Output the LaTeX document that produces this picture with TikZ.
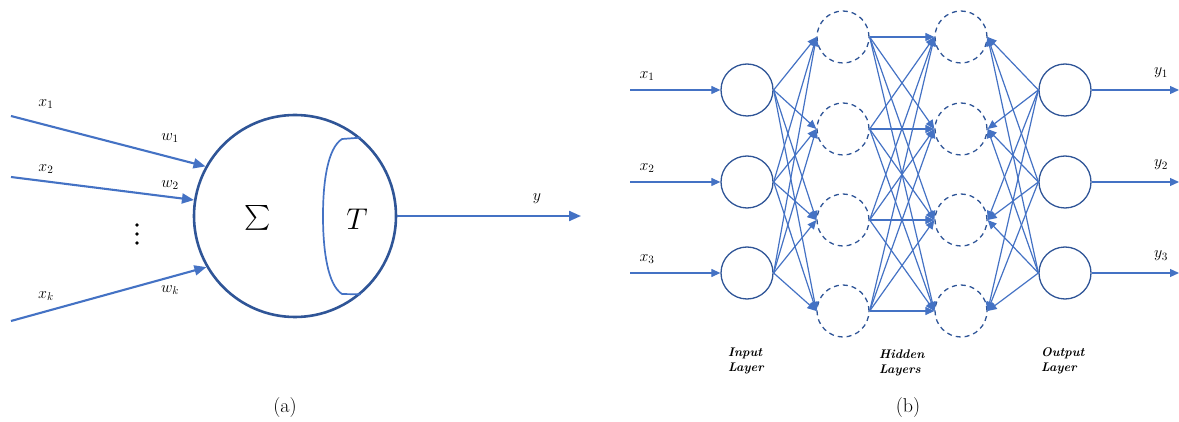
\RequirePackage{fix-cm}
\documentclass[tikz,border=0pt]{standalone}
\usepackage{amsmath}
\usepackage{tikz}
\usetikzlibrary{arrows.meta,calc}
\definecolor{blue1}{HTML}{4472C4}
\definecolor{blue2}{HTML}{2F5597}

\begin{document}
\begin{tikzpicture}[x=1pt,y=-1pt,>={Triangle[length=12pt,width=10pt]},
    lbl/.style={font=\fontsize{16}{18}\selectfont},
    caption/.style={font=\fontsize{20}{24}\selectfont},
    layer/.style={font=\fontsize{12.5}{15}\selectfont\bfseries\itshape,align=left,anchor=north west,inner sep=0pt},
    wire/.style={draw=blue1,line width=2.1pt},
    link/.style={draw=blue1,line width=1.2pt,-{Triangle[length=9pt,width=8pt]}},
    unit/.style={circle,draw=blue2,line width=1.3pt,minimum size=52pt,inner sep=0pt},
    hunit/.style={unit,dash pattern=on 5pt off 4pt}]
    \useasboundingbox (0,0) rectangle (1179,422);

    % (a) single neuron
    \node[circle,draw=blue2,line width=2.6pt,minimum size=202pt,inner sep=0pt] (neuron) at (295,216) {};
    \coordinate (x1) at (11,116);
    \coordinate (x2) at (11,177);
    \coordinate (xk) at (11,321);
    \draw[wire,->] (x1) -- (neuron.151);
    \draw[wire,->] (x2) -- (neuron.171);
    \draw[wire,->] (xk) -- (neuron.210);
    \node[lbl] (lx1) at (46,104) {$x_1$};
    \node[lbl] (lx2) at (46,169) {$x_2$};
    \node[lbl] (lxk) at (46,296) {$x_k$};
    \node[lbl] (lw1) at (170,138) {$w_1$};
    \node[lbl] (lw2) at (170,185) {$w_2$};
    \node[lbl] (lwk) at (170,290) {$w_k$};
    \foreach \y in {225,234,243}{
      \fill (137,\y) circle (1.8pt);
    }
    \draw[draw=blue1,line width=1.7pt] (neuron.50) -- (342,139)
      .. controls (328,148) and (323,180) .. (323,216)
      .. controls (323,252) and (328,285) .. (342,294) -- (neuron.-50);
    \node[font=\fontsize{28}{32}\selectfont] (sum) at (258,218) {$\sum$};
    \node[font=\fontsize{30}{34}\selectfont] (tf) at (357,219) {$T$};
    \coordinate (yout) at (581,216);
    \draw[wire,->] (neuron.east) -- (yout);
    \node[lbl] (ly) at (537,199) {$y$};
    \node[caption] (capa) at (285,408) {(a)};

    % (b) network
    \foreach \i/\y in {1/90,2/182,3/273}{
      \node[unit] (in\i) at (747,\y) {};
      \node[unit] (out\i) at (1065,\y) {};
      \coordinate (s\i) at (630,\y);
      \coordinate (e\i) at (1179,\y);
      \draw[link] (s\i) -- (in\i);
      \draw[link] (out\i) -- (e\i);
      \node[lbl] (lx\i) at (647,{\y-14}) {$x_\i$};
      \node[lbl] (ly\i) at (1161,{\y-17}) {$y_\i$};
    }
    \foreach \j/\y in {1/37,2/129,3/220,4/311}{
      \node[hunit] (ha\j) at (843,\y) {};
      \node[hunit] (hb\j) at (961,\y) {};
    }
    \foreach \i in {1,2,3}{
      \foreach \j in {1,...,4}{
        \draw[link] (in\i.east) -- (ha\j.west);
        \draw[link] (out\i.west) -- (hb\j.east);
      }
    }
    \foreach \i in {1,...,4}{
      \foreach \j in {1,...,4}{
        \draw[link] (ha\i.east) -- (hb\j.west);
      }
    }
    \node[layer] (lin) at (728,348) {Input\\Layer};
    \node[layer] (lhid) at (879,350) {Hidden\\Layers};
    \node[layer] (lout) at (1041,348) {Output\\Layer};
    \node[caption] (capb) at (908,408) {(b)};
\end{tikzpicture}
\end{document}
